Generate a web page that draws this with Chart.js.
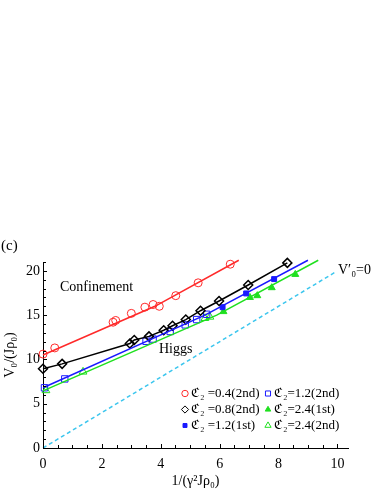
<!DOCTYPE html>
<html>
<head>
<meta charset="utf-8">
<script src="https://cdn.jsdelivr.net/npm/chart.js@4.4.1/dist/chart.umd.min.js"></script>
<style>
  html, body { margin: 0; padding: 0; background: #fff; }
  #wrap { width: 382px; height: 494px; position: relative; }
</style>
</head>
<body>
<div id="wrap"><canvas id="c"></canvas></div>
<script>
// Data
const redX = [0, 0.4, 2.38, 2.47, 3.0, 3.46, 3.74, 3.95, 4.51, 5.27, 6.36];
const redY = [10.6, 11.3, 14.2, 14.4, 15.2, 15.9, 16.2, 16.0, 17.2, 18.65, 20.75];
const blackX = [0, 0.65, 2.95, 3.1, 3.6, 4.1, 4.4, 4.85, 5.35, 5.98, 6.97, 8.3];
const blackY = [8.95, 9.5, 11.8, 12.2, 12.6, 13.3, 13.8, 14.5, 15.5, 16.6, 18.4, 20.9];
const blue1X = [6.1, 6.9, 7.85];
const blue1Y = [15.9, 17.45, 19.07];
const blue2X = [0.05, 0.74, 3.5, 3.74, 4.32, 4.83, 5.22, 5.56];
const blue2Y = [6.8, 7.8, 12.05, 12.3, 13.15, 13.9, 14.5, 15.1];
const green1X = [6.13, 7.03, 7.28, 7.77, 8.57];
const green1Y = [15.4, 17.0, 17.2, 18.1, 19.6];
const green2X = [0.1, 1.36, 5.5, 5.67];
const green2Y = [6.5, 8.6, 14.65, 14.8];

// guide lines
const redFitX = [0, 3.8, 6.65];
const redFitY = [10.5, 16.0, 21.2];
const blueFitX = [0, 5.5, 9.0];
const blueFitY = [6.8, 15.0, 21.2];
const greenFitX = [0, 5.9, 9.35];
const greenFitY = [6.45, 15.0, 21.2];
const zeroX = [0, 9.9];
const zeroY = [0, 19.8];

const legendLabels = ['\u212D\u2082 =0.4(2nd)', '\u212D\u2082 =0.8(2nd)', '\u212D\u2082 =1.2(1st)',
                      '\u212D\u2082=1.2(2nd)', '\u212D\u2082=2.4(1st)', '\u212D\u2082=2.4(2nd)'];

const RED = '#ff2a2a', BLUE = '#1a1aff', GREEN = '#1fe01f', CYAN = '#3cc6ee';
const SERIF = '"Liberation Serif", "DejaVu Serif", serif';

function pts(xs, ys) {
    return xs.map((x, i) => ({ x: x, y: ys[i] }));
}

function lineSet(xs, ys, color, dash) {
    return {
        data: pts(xs, ys), showLine: true, borderColor: color, borderWidth: 1.5,
        borderDash: dash || [], pointRadius: 0, clip: false
    };
}

function markSet(xs, ys, color, style, r, filled, withLine) {
    return {
        data: pts(xs, ys), showLine: !!withLine, borderColor: color, borderWidth: 1.5,
        pointStyle: style, pointRadius: r, pointBorderColor: color, pointBorderWidth: 1,
        pointBackgroundColor: filled ? color : 'rgba(0,0,0,0)', clip: false
    };
}

const datasets = [
    lineSet(zeroX, zeroY, CYAN, [4, 3]),
    lineSet(redFitX, redFitY, RED),
    lineSet(blueFitX, blueFitY, BLUE),
    lineSet(greenFitX, greenFitY, GREEN),
    markSet(redX, redY, RED, 'circle', 4, false),           // 4
    markSet(blackX, blackY, '#000', 'rectRot', 4.5, false, true), // 5
    markSet(blue1X, blue1Y, BLUE, 'rect', 3.5, true),       // 6
    markSet(blue2X, blue2Y, BLUE, 'rect', 4.5, false),      // 7
    markSet(green1X, green1Y, GREEN, 'triangle', 4, true),  // 8
    markSet(green2X, green2Y, GREEN, 'triangle', 4.5, false)// 9
];
datasets[5].pointBorderWidth = 1.5;

// legend: column, row, dataset index
const legendItems = [[0, 0, 4], [0, 1, 5], [0, 2, 6], [1, 0, 7], [1, 1, 8], [1, 2, 9]];

const extras = {
    id: 'extras',
    afterDraw(chart) {
        const ctx = chart.ctx;
        const xs = chart.scales.x, ys = chart.scales.y;
        ctx.save();
        // inward ticks
        ctx.strokeStyle = '#000';
        ctx.lineWidth = 1;
        const y0 = ys.getPixelForValue(0);
        const x0 = xs.getPixelForValue(0);
        for (let v = 0; v <= 10; v += 0.5) {
            const px = Math.round(xs.getPixelForValue(v)) + 0.5;
            ctx.beginPath(); ctx.moveTo(px, y0); ctx.lineTo(px, y0 - (v % 2 === 0 ? 4 : 3)); ctx.stroke();
        }
        for (let v = 0; v <= 21; v += 1) {
            const py = Math.round(ys.getPixelForValue(v)) + 0.5;
            ctx.beginPath(); ctx.moveTo(x0, py); ctx.lineTo(x0 + (v % 5 === 0 ? 4 : 3), py); ctx.stroke();
        }

        // annotations
        ctx.fillStyle = '#000';
        ctx.textBaseline = 'middle';
        ctx.font = '15px ' + SERIF;
        ctx.fillText('(c)', 1, 246);
        ctx.font = '14px ' + SERIF;
        ctx.fillText('Confinement', 60, 287);
        ctx.fillText('Higgs', 159, 349);
        ctx.fillText('V\u2032\u2080=0', 338, 270);

        // legend
        ctx.font = '13px ' + SERIF;
        const colX = [185, 268], rowY = [393.5, 409.5, 425.5];
        legendItems.forEach((it, i) => {
            const ds = chart.data.datasets[it[2]];
            const cx = colX[it[0]], cy = rowY[it[1]];
            ctx.strokeStyle = ds.pointBorderColor;
            ctx.fillStyle = ds.pointBackgroundColor;
            ctx.lineWidth = 1;
            Chart.helpers.drawPoint(ctx, {
                pointStyle: ds.pointStyle, radius: ds.pointRadius * 0.8, rotation: 0, borderWidth: 1
            }, cx, cy);
            ctx.fillStyle = '#000';
            ctx.fillText(legendLabels[i], cx + 6, cy);
        });
        ctx.restore();
    }
};

const ctx = document.getElementById('c').getContext('2d');
new Chart(ctx, {
    type: 'scatter',
    data: { datasets: datasets },
    options: {
        responsive: true,
        maintainAspectRatio: false,
        animation: false,
        layout: { padding: { top: 262, right: 34, left: 0, bottom: 0 } },
        plugins: { legend: { display: false }, tooltip: { enabled: false } },
        scales: {
            x: {
                type: 'linear', min: 0, max: 10.36,
                grid: { display: false, drawTicks: false },
                border: { display: true, color: '#000', width: 1 },
                ticks: {
                    stepSize: 2, includeBounds: false, autoSkip: false, maxRotation: 0,
                    color: '#000', padding: 8, font: { family: SERIF, size: 14 }
                },
                title: {
                    display: true, text: '1/(\u03B3\u00B2J\u03C1\u2080)', color: '#000',
                    font: { family: SERIF, size: 14 }, padding: { top: 0, bottom: 4 }
                },
                afterFit(scale) { scale.height = 46; }
            },
            y: {
                type: 'linear', min: 0, max: 21,
                grid: { display: false, drawTicks: false },
                border: { display: true, color: '#000', width: 1 },
                ticks: {
                    stepSize: 5, includeBounds: false, autoSkip: false,
                    color: '#000', padding: 3, font: { family: SERIF, size: 14 }
                },
                title: {
                    display: true, text: 'V\u2080/(J\u03C1\u2080)', color: '#000',
                    font: { family: SERIF, size: 14 }, padding: { top: 2, bottom: 0 }
                },
                afterFit(scale) { scale.width = 43; }
            }
        }
    },
    plugins: [extras]
});
</script>
</body>
</html>
